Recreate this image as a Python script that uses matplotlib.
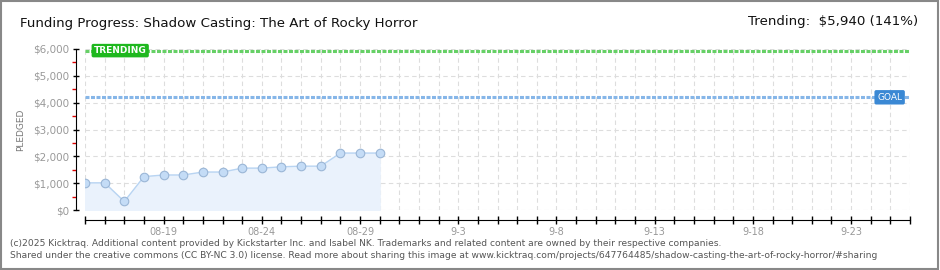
import matplotlib.pyplot as plt
import matplotlib.patches as patches
import numpy as np

# данные кампании
days = list(range(16))
pledged = [1012, 1012, 317, 1244, 1305, 1305, 1415, 1415, 1561, 1561, 1610, 1634, 1634, 2122, 2122, 2122]
goal = 4200
trending = 5940
total_days = 42
label_days = [4, 9, 14, 19, 24, 29, 34, 39]
label_texts = ["08-19", "08-24", "08-29", "9-3", "9-8", "9-13", "9-18", "9-23"]
y_ticks = [0, 1000, 2000, 3000, 4000, 5000, 6000]

fig = plt.figure(figsize=(9.4, 2.7), dpi=100)
ax = fig.add_axes([85 / 940, 60 / 270, 825 / 940, 161 / 270])

# сетка
for d in range(total_days + 1):
    ax.axvline(d, color='#dddddd', lw=0.8, ls=(0, (4, 3)), zorder=0)
for v in y_ticks:
    ax.axhline(v, color='#dddddd', lw=0.8, ls=(0, (4, 3)), zorder=0)

# линии цели и тренда
ax.axhline(trending, color='#66d066', lw=2.2, ls=(0, (1.3, 0.5)), zorder=2)
ax.axhline(goal, color='#86b6e8', lw=2.2, ls=(0, (1.3, 0.5)), zorder=2)

ax.fill_between(days, pledged, 0, color='#eaf2fc', zorder=1)
ax.plot(days, pledged, color='#b8d4f2', lw=1, zorder=3)
ax.scatter(days, pledged, s=38, color='#c4dcf6', edgecolors='#9ab6d6', linewidths=0.8, zorder=4)

ax.text(0.45, trending, "TRENDING", color='white', fontsize=6.5, fontweight='bold', ha='left', va='center',
        bbox=dict(boxstyle='round,pad=0.25,rounding_size=0.2', fc='#1fb81f', ec='none'), zorder=5)
ax.text(41.6, goal, "GOAL", color='white', fontsize=6.5, ha='right', va='center',
        bbox=dict(boxstyle='round,pad=0.3,rounding_size=0.2', fc='#3a88d4', ec='none'), zorder=5)

ax.set_xlim(0, total_days)
ax.set_ylim(0, 6000)

ax.spines['top'].set_visible(False)
ax.spines['right'].set_visible(False)
ax.spines['left'].set_position(('outward', 6.5))
ax.spines['bottom'].set_position(('outward', 7.5))
ax.spines['left'].set_bounds(0, 6000)

ax.set_yticks(y_ticks)
ax.set_yticklabels(["${:,}".format(v) for v in y_ticks])
ax.set_yticks(np.arange(500, 6000, 1000), minor=True)
ax.tick_params(axis='y', which='major', direction='inout', length=5, width=1, color='black',
               labelsize=7.5, labelcolor='#999999', pad=2)
ax.tick_params(axis='y', which='minor', direction='out', length=3, width=1, color='#dd0000')

ax.set_xticks(range(total_days + 1))
xl = [""] * (total_days + 1)
for d, t in zip(label_days, label_texts):
    xl[d] = t
ax.set_xticklabels(xl)
ax.tick_params(axis='x', direction='inout', length=6, width=1, color='black',
               labelsize=7, labelcolor='#999999', pad=2)

ax.set_ylabel("PLEDGED", fontsize=6.5, color='#777777', labelpad=6)

fig.text(20 / 940, 1 - 24 / 270, "Funding Progress: Shadow Casting: The Art of Rocky Horror",
         fontsize=9.6, color='#111111', ha='left', va='center')
fig.text(918 / 940, 1 - 22 / 270, "Trending:  $5,940 (141%)",
         fontsize=9.6, color='#111111', ha='right', va='center')

fig.text(10 / 940, 1 - 243 / 270,
         "(c)2025 Kicktraq. Additional content provided by Kickstarter Inc. and Isabel NK. Trademarks and related content are owned by their respective companies.",
         fontsize=6.6, color='#555555', ha='left', va='center')
fig.text(10 / 940, 1 - 256 / 270,
         "Shared under the creative commons (CC BY-NC 3.0) license. Read more about sharing this image at www.kicktraq.com/projects/647764485/shadow-casting-the-art-of-rocky-horror/#sharing",
         fontsize=6.6, color='#555555', ha='left', va='center')

fig.patches.append(patches.Rectangle((0.001, 0.002), 0.997, 0.995, transform=fig.transFigure,
                                     fill=False, ec='#888888', lw=1.5))

fig.savefig("out.png", dpi=100)
